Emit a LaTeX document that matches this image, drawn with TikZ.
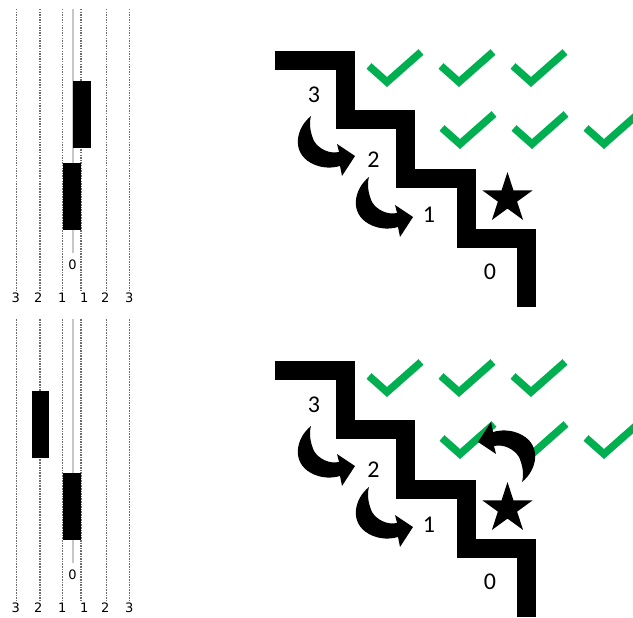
\documentclass[tikz,border=0pt]{standalone}
\usepackage{fontspec}
\setmainfont{Carlito}
\newfontfamily\tickfont{DejaVu Sans}
\definecolor{checkgreen}{RGB}{0,176,80}
\definecolor{guidegray}{RGB}{110,110,110}
\begin{document}
\begin{tikzpicture}[x=1pt,y=-1pt,
  stairs/.style={line width=19pt, line join=miter, line cap=butt},
  tick/.style={draw=checkgreen, line width=7.5pt, line join=miter, line cap=butt},
  guide/.style={draw=guidegray, line width=1.1pt, dash pattern=on 1.5pt off 1.1pt},
  axis/.style={draw=black!22, line width=1.8pt},
  bar/.style={fill=black},
  steplabel/.style={font=\fontsize{24}{24}\selectfont, inner sep=0pt},
  ticklabel/.style={font=\tickfont\fontsize{13}{13}\selectfont, inner sep=0pt},
  curvearrow/.pic={
    \fill (0,0) .. controls (-15,12) and (-20,36) .. (0,47)
          .. controls (11,53) and (22,52) .. (29,50)
          -- (31,60) -- (44,40) -- (26,28) -- (28,36)
          .. controls (18,38) and (8,33) .. (3,25)
          .. controls (-1,16) and (-2,7) .. (0,0) -- cycle;
  },
  checkmark/.pic={\draw[tick] (-18,-16) -- (0,0) -- (34,-30);},
]
\useasboundingbox (0,0) rectangle (633,618);
\clip (0,0) rectangle (633,618);

% ---- common parts of both panels ----
\foreach \dy/\tag in {0/a,310/b} {
  \begin{scope}[shift={(0,\dy)}]
    % number line with the six dotted guides
    \foreach \gx in {16.7,40,62.7,81,106.3,129.3}
      \draw[guide] (\gx,9) -- (\gx,291);
    \draw[axis] (72.7,9) -- (72.7,253);
    \node[ticklabel] (zero-\tag) at (72.5,264.5) {0};
    \node[ticklabel] (l3-\tag) at (15.7,298) {3};
    \node[ticklabel] (l2-\tag) at (38.3,298) {2};
    \node[ticklabel] (l1-\tag) at (62.3,298) {1};
    \node[ticklabel] (r1-\tag) at (84.3,298) {1};
    \node[ticklabel] (r2-\tag) at (105.3,298) {2};
    \node[ticklabel] (r3-\tag) at (129.3,298) {3};
    \fill[bar] (63,163) rectangle (81,230);

    % check marks
    \foreach \cx in {387,459,531}
      \pic at (\cx,82) {checkmark};
    \foreach \cx in {460,532,604}
      \pic at (\cx,144) {checkmark};

    % staircase
    \draw[stairs] (275,60.5) -- (345,60.5) -- (345,119.5) -- (405.5,119.5)
      -- (405.5,179) -- (466,179) -- (466,238) -- (526,238) -- (526,307);

    % star
    \fill[shift={(507.5,198.5)}] (-90:26.5) -- (-54:10.1) -- (-18:26.5)
      -- (18:10.1) -- (54:26.5) -- (90:10.1) -- (126:26.5) -- (162:10.1)
      -- (198:26.5) -- (234:10.1) -- cycle;

    % step numbers and jumps between them
    \node[steplabel] (s3-\tag) at (314,94.5) {3};
    \node[steplabel] (s2-\tag) at (373.5,159.5) {2};
    \node[steplabel] (s1-\tag) at (429,214.5) {1};
    \node[steplabel] (s0-\tag) at (490,272) {0};
    \pic at (311,116) {curvearrow};
    \pic at (369,177) {curvearrow};
  \end{scope}
}

% ---- first panel ----
\fill[bar] (73,81) rectangle (91,148);

% ---- second panel ----
\begin{scope}[shift={(0,310)}]
  \fill[bar] (32,81) rectangle (49,148);
  \pic[rotate=180] at (522,172) {curvearrow};
\end{scope}
\end{tikzpicture}
\end{document}
